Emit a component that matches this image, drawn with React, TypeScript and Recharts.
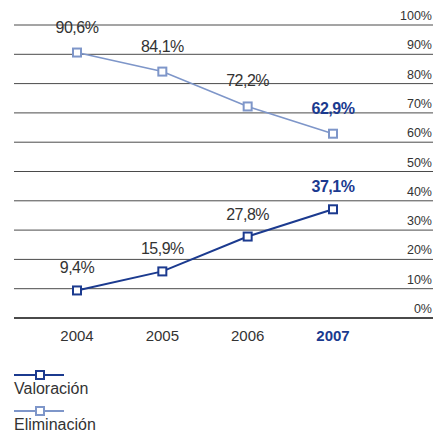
import React from 'react';
import { CartesianGrid, LabelList, Legend, Line, LineChart, XAxis, YAxis } from 'recharts';

const years = ['2004', '2005', '2006', '2007'];
const valoracion = [9.4, 15.9, 27.8, 37.1];
const eliminacion = [90.6, 84.1, 72.2, 62.9];
const yTicks = [0, 10, 20, 30, 40, 50, 60, 70, 80, 90, 100];

const DARK = '#1b3a8f';
const LIGHT = '#7e96c9';
const TEXT = '#333333';
const GRID = '#4a4a4a';
const FONT = '"Liberation Sans", Arial, sans-serif';
const HIGHLIGHT = '2007';

const data = years.map((year, i) => ({
  year,
  valoracion: valoracion[i],
  eliminacion: eliminacion[i],
}));

function fmt(v: number): string {
  return `${v.toFixed(1).replace('.', ',')}%`;
}

function SquareDot(color: string) {
  return (props: any) => {
    const { cx, cy, index } = props;
    if (cx == null || cy == null) return <g key={`d-${index}`} />;
    return (
      <rect
        key={`d-${index}`}
        x={cx - 4}
        y={cy - 4}
        width={8}
        height={8}
        fill="#fff"
        stroke={color}
        strokeWidth={2}
      />
    );
  };
}

function makeLabel(offset: number) {
  return (props: any) => {
    const { x, y, value, index } = props;
    const last = years[index] === HIGHLIGHT;
    return (
      <text
        x={x}
        y={y - offset}
        textAnchor="middle"
        fontSize={16}
        fontFamily={FONT}
        fill={last ? DARK : TEXT}
        fontWeight={last ? 'bold' : 'normal'}
        letterSpacing={-0.5}
      >
        {fmt(Number(value))}
      </text>
    );
  };
}

function YTick(props: any) {
  const { x, y, payload } = props;
  return (
    <text x={x} y={y - 5} textAnchor="end" fontSize={12.5} fontFamily={FONT} fill={TEXT}>
      {`${payload.value}%`}
    </text>
  );
}

function XTick(props: any) {
  const { x, y, payload } = props;
  const last = payload.value === HIGHLIGHT;
  return (
    <text
      x={x}
      y={y}
      dy="0.71em"
      textAnchor="middle"
      fontSize={15}
      fontFamily={FONT}
      fill={last ? DARK : TEXT}
      fontWeight={last ? 'bold' : 'normal'}
    >
      {payload.value}
    </text>
  );
}

function LegendMark({ color }: { color: string }) {
  return (
    <svg width={50} height={10} style={{ display: 'block' }}>
      <line x1={0} y1={5} x2={50} y2={5} stroke={color} strokeWidth={2} />
      <rect x={22} y={1} width={8} height={8} fill="#fff" stroke={color} strokeWidth={2} />
    </svg>
  );
}

function LegendContent() {
  const items = [
    { name: 'Valoración', color: DARK },
    { name: 'Eliminación', color: LIGHT },
  ];
  return (
    <div style={{ fontFamily: FONT, color: TEXT, fontSize: 16, lineHeight: '18px' }}>
      {items.map((it) => (
        <div key={it.name} style={{ marginBottom: 8 }}>
          <LegendMark color={it.color} />
          <div>{it.name}</div>
        </div>
      ))}
    </div>
  );
}

export default function App() {
  return (
    <div style={{ position: 'absolute', left: 0, top: 0, background: '#fff' }}>
      <LineChart
        width={444}
        height={435}
        data={data}
        margin={{ top: 25, right: 11, left: 14, bottom: 0 }}
      >
        <CartesianGrid vertical={false} stroke={GRID} strokeWidth={1} />
        <XAxis
          dataKey="year"
          padding={{ left: 63, right: 100 }}
          axisLine={{ stroke: GRID, strokeWidth: 2 }}
          tickLine={false}
          tickMargin={6}
          height={52}
          tick={<XTick />}
          interval={0}
        />
        <YAxis
          orientation="right"
          mirror
          domain={[0, 100]}
          ticks={yTicks}
          axisLine={false}
          tickLine={false}
          tickSize={0}
          tickMargin={1}
          tick={<YTick />}
          interval={0}
        />
        <Legend
          verticalAlign="bottom"
          align="left"
          content={<LegendContent />}
          wrapperStyle={{ left: 14, height: 65, paddingTop: 0 }}
        />
        <Line
          dataKey="eliminacion"
          stroke={LIGHT}
          strokeWidth={1.6}
          dot={SquareDot(LIGHT)}
          isAnimationActive={false}
        >
          <LabelList dataKey="eliminacion" content={makeLabel(20)} />
        </Line>
        <Line
          dataKey="valoracion"
          stroke={DARK}
          strokeWidth={2}
          dot={SquareDot(DARK)}
          isAnimationActive={false}
        >
          <LabelList dataKey="valoracion" content={makeLabel(17)} />
        </Line>
      </LineChart>
    </div>
  );
}
